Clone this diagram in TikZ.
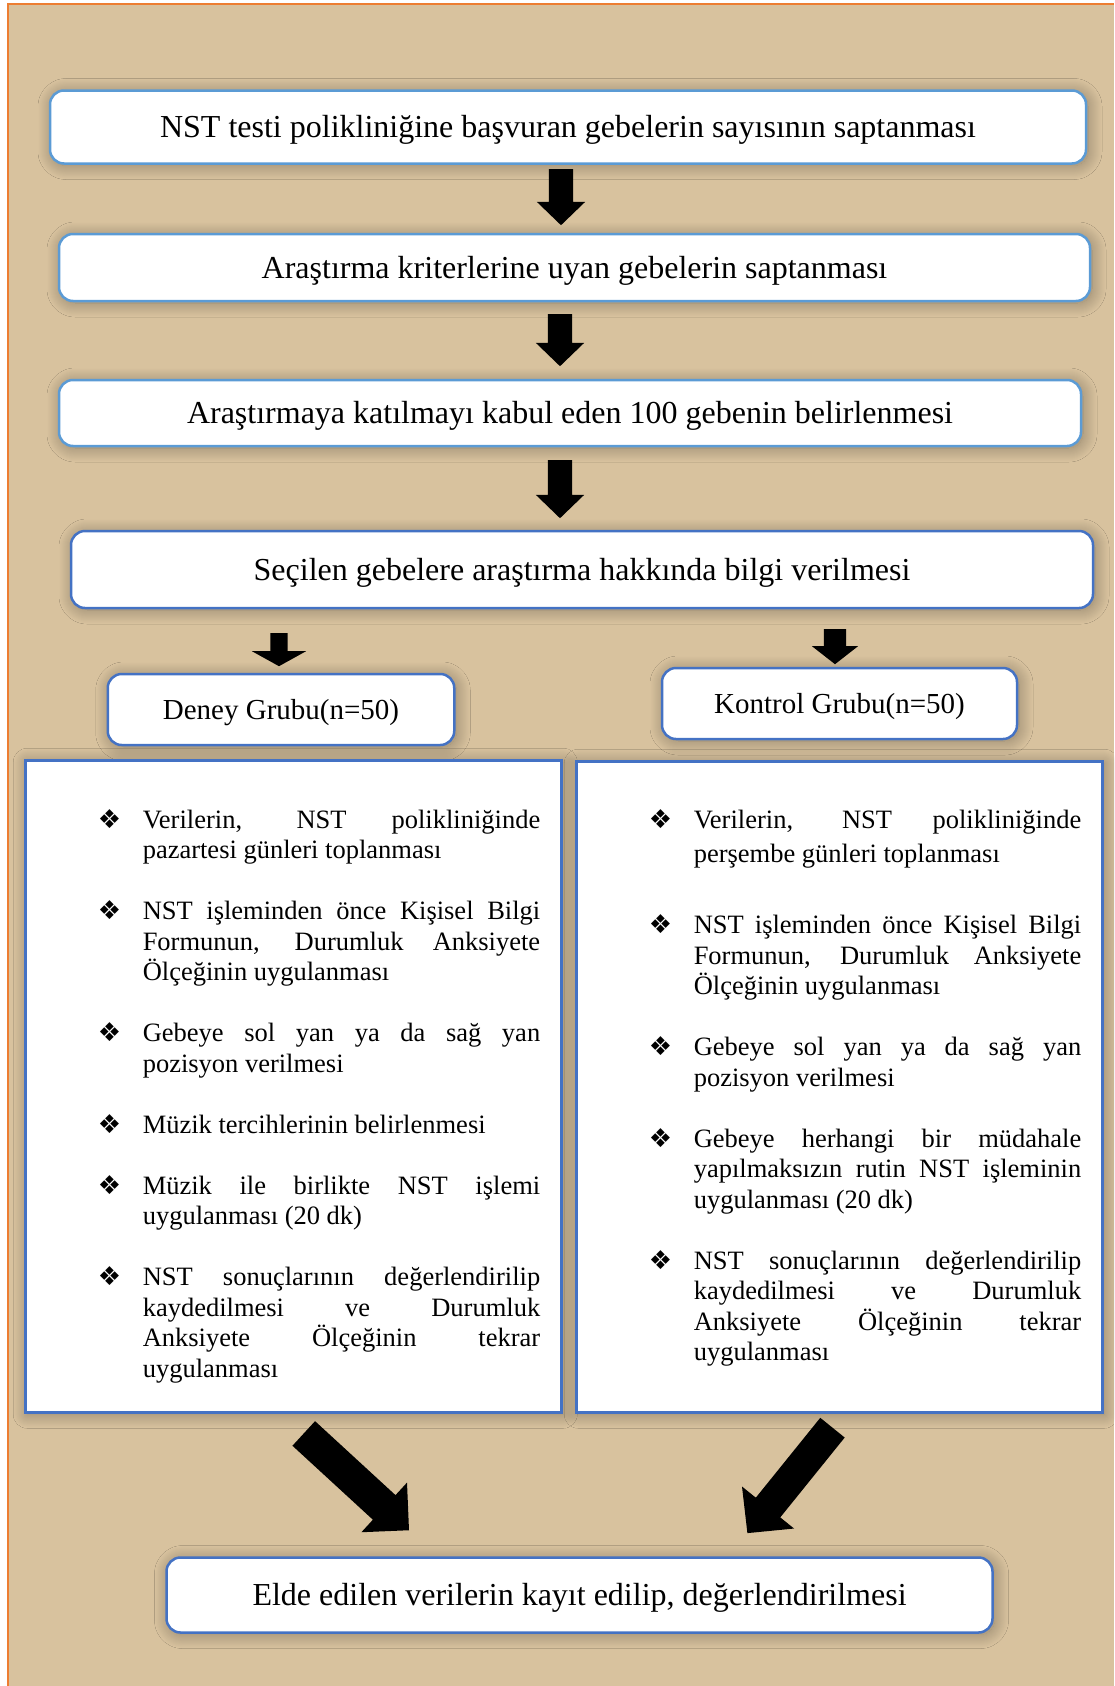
\documentclass[tikz,border=0pt]{standalone}
\usepackage{fontspec}
\setmainfont{Liberation Serif}
\newfontfamily\dejavu{DejaVu Sans}
\usetikzlibrary{shapes.arrows,shadows.blur}
\definecolor{zemin}{RGB}{216,194,158}
\definecolor{cerceve}{RGB}{237,125,49}
\definecolor{acikmavi}{RGB}{91,155,213}
\definecolor{koyumavi}{RGB}{68,114,196}
\newcommand{\madde}{\leavevmode\llap{\makebox[45pt][l]{\dejavu\fontsize{26}{26}\selectfont ❖}}}
\newcommand{\listeayar}{\fontsize{26.5}{30.5}\selectfont\parskip=30.5pt
  \leftskip=117.5pt\rightskip=21pt\tolerance=10000\hyphenpenalty=10000
  \spaceskip=6.6pt plus 100pt minus 1.5pt\relax}

\begin{document}
\begin{tikzpicture}[x=1pt,y=-1pt,inner sep=0pt,
  golge/.style={blur shadow={shadow xshift=2pt,shadow yshift=-2pt,shadow blur radius=14pt,shadow blur steps=30,shadow opacity=35}},
  kutu/.style={draw=acikmavi,line width=2.5pt,fill=white,rounded corners=14pt,golge,
    font=\fontsize{32}{38}\selectfont,text height=21pt,text depth=0pt},
  grup/.style={kutu,draw=koyumavi,font=\fontsize{29}{34}\selectfont,text height=19pt},
  liste/.style={draw=koyumavi,line width=2.5pt,fill=white,golge,anchor=north west},
  ok/.style={single arrow,fill=black,inner xsep=0pt,anchor=tail}]
  \useasboundingbox (0,0) rectangle (1114,1686);
  \fill[white] (0,0) rectangle (1114,1686);
  \fill[zemin] (7.5,4) rectangle (1114,1686);
  \draw[cerceve,line width=2pt] (7.5,1686) -- (7.5,4) -- (1114,4);

  \node[kutu,minimum width=1036pt,minimum height=73pt] (sayi) at (568,127)
    {NST testi polikliniğine başvuran gebelerin sayısının saptanması};
  \node[kutu,minimum width=1031pt,minimum height=67pt] (kriter) at (574.5,267.5)
    {Araştırma kriterlerine uyan gebelerin saptanması};
  \node[kutu,minimum width=1022pt,minimum height=66pt] (kabul) at (570,413)
    {Araştırmaya katılmayı kabul eden 100 gebenin belirlenmesi};
  \node[kutu,draw=koyumavi,minimum width=1022pt,minimum height=77pt] (bilgi) at (582,569.5)
    {Seçilen gebelere araştırma hakkında bilgi verilmesi};
  \node[grup,minimum width=346.5pt,minimum height=71pt] (deney) at (281,709.5) {Deney Grubu(n=50)};
  \node[grup,minimum width=355pt,minimum height=71pt] (kontrol) at (839.5,703.5) {Kontrol Grubu(n=50)};

  \node[liste,text width=536pt,text height=68pt,text depth=584pt] (deneyliste) at (24,759) {\listeayar
    \madde Verilerin, NST polikliniğinde\linebreak pazartesi günleri toplanması\par
    \madde NST işleminden önce Kişisel Bilgi\linebreak Formunun, Durumluk Anksiyete\linebreak Ölçeğinin uygulanması\par
    \madde Gebeye sol yan ya da sağ yan\linebreak pozisyon verilmesi\par
    \madde Müzik tercihlerinin belirlenmesi\par
    \madde Müzik ile birlikte NST işlemi\linebreak uygulanması (20 dk)\par
    \madde NST sonuçlarının değerlendirilip\linebreak kaydedilmesi ve Durumluk\linebreak Anksiyete Ölçeğinin tekrar\linebreak uygulanması\par};
  \node[liste,text width=526pt,text height=67pt,text depth=584pt] (kontrolliste) at (575,760) {\listeayar
    \madde Verilerin, NST polikliniğinde\vadjust{\vskip3.5pt}\linebreak perşembe günleri toplanması\par
    \vskip10.7pt
    \madde NST işleminden önce Kişisel Bilgi\linebreak Formunun, Durumluk Anksiyete\linebreak Ölçeğinin uygulanması\par
    \madde Gebeye sol yan ya da sağ yan\linebreak pozisyon verilmesi\par
    \madde Gebeye herhangi bir müdahale\linebreak yapılmaksızın rutin NST işleminin\linebreak uygulanması (20 dk)\par
    \madde NST sonuçlarının değerlendirilip\linebreak kaydedilmesi ve Durumluk\linebreak Anksiyete Ölçeğinin tekrar\linebreak uygulanması\par};

  \node[kutu,draw=koyumavi,minimum width=826pt,minimum height=75pt] (sonuc) at (579.5,1595)
    {Elde edilen verilerin kayıt edilip, değerlendirilmesi};

  \node[ok,rotate=-90,minimum height=56pt,inner ysep=12pt,single arrow head extend=12pt,single arrow tip angle=92] (ok1) at (561,169) {};
  \node[ok,rotate=-90,minimum height=52pt,inner ysep=12pt,single arrow head extend=12pt,single arrow tip angle=92] (ok2) at (560,314) {};
  \node[ok,rotate=-90,minimum height=58pt,inner ysep=12pt,single arrow head extend=12pt,single arrow tip angle=92] (ok3) at (560,460) {};
  \node[ok,rotate=-90,minimum height=33pt,inner ysep=8.5pt,single arrow head extend=18.5pt,single arrow tip angle=122] (ok4) at (279,633) {};
  \node[ok,rotate=-90,minimum height=35pt,inner ysep=11pt,single arrow head extend=12pt,single arrow tip angle=104] (ok5) at (835,629) {};
  \node[ok,rotate=-42.6,minimum height=143pt,inner ysep=16.5pt,single arrow head extend=17pt,single arrow tip angle=90] (ok6) at (303.6,1433.3) {};
  \node[ok,rotate=-128.9,minimum height=135.5pt,inner ysep=15.5pt,single arrow head extend=17.75pt,single arrow tip angle=91] (ok7) at (832.6,1427.5) {};
\end{tikzpicture}
\end{document}
